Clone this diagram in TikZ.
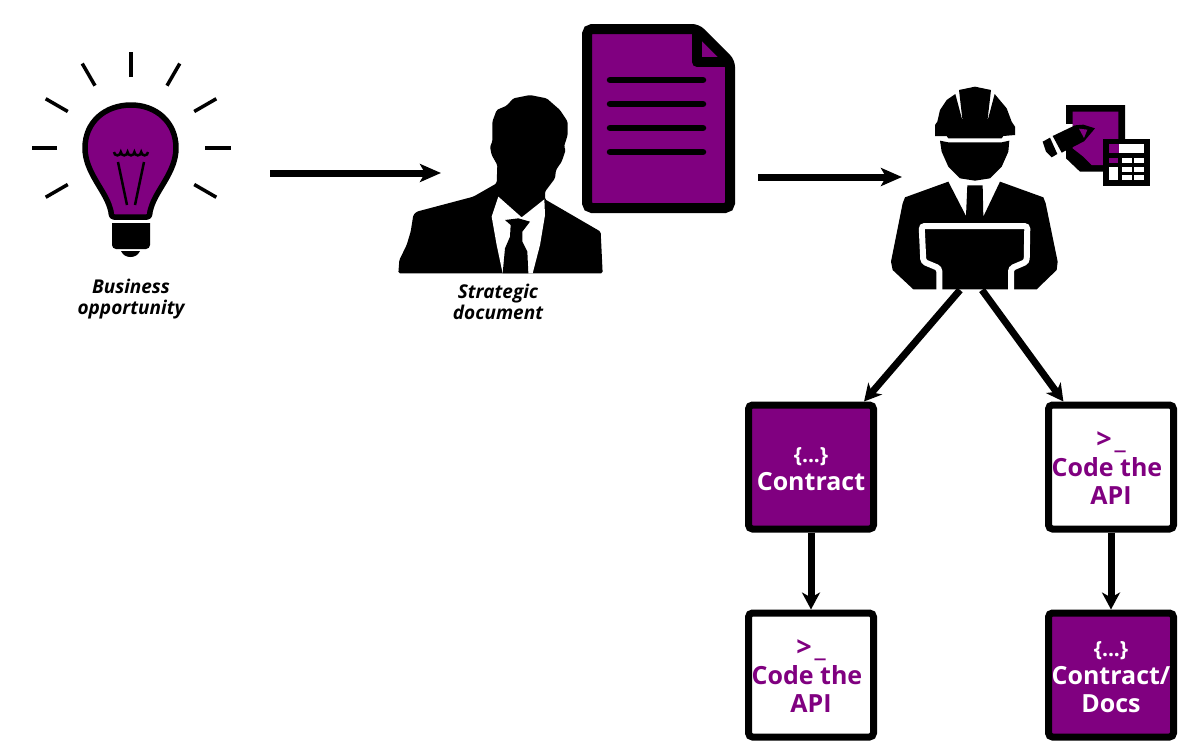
\documentclass[tikz,border=0pt]{standalone}
\usepackage{fontspec}
\setmainfont{Open Sans}
\usetikzlibrary{shapes,arrows,arrows.meta}
\definecolor{plum}{HTML}{800080}
\newcommand{\braces}{{\fontsize{21}{28}\selectfont\rule{0pt}{20pt}\{...\}}}
\newcommand{\prompt}{{\fontsize{27}{28}\selectfont\rule{0pt}{18pt}>\kern3pt\_}}
\tikzstyle{contractbox} = [rectangle, draw=black, fill=plum, text=white, line width=7pt, rounded corners=4pt, minimum width=125pt, minimum height=124pt, inner sep=0pt, font=\bfseries\fontsize{25}{28}\selectfont, align=center]
\tikzstyle{apibox} = [contractbox, fill=white, text=plum]
\tikzstyle{caption} = [align=center, inner sep=0pt, font=\bfseries\itshape\fontsize{19}{21}\selectfont]
\tikzstyle{line} = [draw, line width=7pt, -{Stealth[length=21pt, width=18pt, inset=5pt]}]
\tikzstyle{thinline} = [draw, line width=7pt, -{Stealth[length=17pt, width=18pt, inset=5pt]}]
\begin{document}
\begin{tikzpicture}[x=1pt, y=-1pt]
      \useasboundingbox (0,0) rectangle (1189,753);

      % light bulb
      \foreach \a/\r in {0/74,30/73,60/72,90/71,120/72,150/73,180/74,210/73,330/73}
        \draw [line width=3.5pt] (131,148) ++(\a:\r pt) -- ++(\a:25.5pt);
      \draw [fill=plum, line width=5.5pt, line join=round] (114,217) .. controls (110,217) and (112,212) .. (110,208) .. controls (105,190) and (85,172) .. (85,148) .. controls (85,122) and (105,105) .. (131,105) .. controls (156,105) and (176,122) .. (176,148) .. controls (176,172) and (156,190) .. (151,208) .. controls (149,212) and (151,217) .. (147,217) -- cycle;
      \fill (112,223) -- (150,223) [rounded corners=4pt] -- (150,249) -- (112,249) [sharp corners] -- cycle;
      \fill (121,251) -- (140,251) .. controls (138,255) and (135,257) .. (130.5,257) .. controls (126,257) and (123,255) .. (121,251) -- cycle;
      \draw [line width=2.5pt] (114,152) foreach \i in {1,...,5} { arc [start angle=180, end angle=360, radius=3.4pt] };
      \draw [line width=2.5pt] (118,162) -- (127,205);
      \draw [line width=2.5pt] (144,162) -- (135,205);

      % person
      \begin{scope}[shift={(390,15)}, scale=1/3]
        \fill [rounded corners=1.5pt] (25,775) -- (28,735) -- (50,690) -- (62,650) -- (70,600) -- (80,590) -- (250,545) -- (320,505) -- (322,450) -- (305,420) -- (300,395) -- (307,380) -- (307,320) -- (320,285) -- (350,272) -- (370,250) -- (420,240) -- (470,250) -- (510,285) -- (533,320) -- (533,360) -- (522,395) -- (527,405) -- (515,440) -- (498,465) -- (495,490) -- (465,530) -- (465,553) -- (632,650) -- (638,775) -- cycle;
        \fill [white] (325,545) -- (395,607) -- (463,553) -- (465,600) -- (450,690) -- (428,775) -- (338,775) -- (320,690) -- (305,605) -- cycle;
        \fill (345,615) -- (385,610) -- (420,620) -- (397,650) -- (397,680) -- (412,710) -- (415,775) -- (338,775) -- (345,700) -- (360,665) -- (362,630) -- cycle;
      \end{scope}

      % document
      \draw [fill=plum, line width=10pt, rounded corners=5pt] (587,29) -- (697,29) -- (730,62) -- (730,208) -- (587,208) -- cycle;
      \draw [line width=10pt, line join=round] (697,29) -- (697,62) -- (730,62);
      \foreach \y in {80,104,128,152}
        \draw [line width=6.5pt, line cap=round] (610,\y) -- (703,\y);

      % worker
      \begin{scope}[shift={(880,80)}, scale=1/3]
        \fill (165,168) -- (165,135) -- (172,125) -- (180,90) -- (200,60) -- (226,42) -- (248,125) -- (237,30) -- (285,20) -- (333,30) -- (322,125) -- (344,42) -- (380,85) -- (395,125) -- (405,140) -- (405,165) -- (370,168) -- (365,175) -- (205,175) -- (200,168) -- cycle;
        \fill (180,182) -- (205,187) -- (365,187) -- (388,182) -- (385,215) -- (365,260) -- (330,295) -- (285,302) -- (240,295) -- (205,260) -- (185,215) -- cycle;
        \fill (205,305) -- (258,408) -- (262,316) -- (308,316) -- (310,410) -- (360,305) -- (490,352) -- (497,370) -- (533,545) -- (530,570) -- (470,628) -- (100,628) -- (38,570) -- (33,545) -- (68,370) -- (75,352) -- cycle;
        \draw [white, line width=6pt, rounded corners=3pt] (178,632) -- (178,565) -- (130,545) -- (125,438) -- (442,438) -- (440,545) -- (393,565) -- (393,632);
        % small plan, pencil and calculator
        \fill (558,75) -- (735,75) -- (735,275) -- (600,275) -- (558,235) -- cycle;
        \fill [plum] (578,95) -- (715,95) -- (715,255) -- (635,255) -- (610,230) -- (578,205) -- cycle;
        \fill [white] (552,132) -- (578,132) -- (578,197) -- (552,212) -- cycle;
        \fill (518,168) -- (585,136) -- (610,134) -- (645,145) -- (612,184) -- (545,218) -- cycle;
        \fill (488,185) -- (510,173) -- (532,222) -- (515,232) -- (498,215) -- cycle;
        \fill [plum] (597,146) -- (622,149) -- (612,174) -- cycle;
        \fill (668,177) rectangle (810,317);
        \fill [white] (718,192) rectangle (793,218);
        \fill [plum] (687,192) rectangle (718,218);
        \fill [plum] (687,233) rectangle (715,248);
        \fill [white] (687,262) rectangle (713,300);
        \foreach \kx in {725,762}
          \foreach \ky in {233,262,285}
            \fill [white] (\kx,\ky) rectangle ++(31,15);
      \end{scope}

      \node [caption] (opportunity) at (131,299) {Business\\opportunity};
      \node [caption] (strategic) at (498,301.5) {Strategic\\document};

      \coordinate (bulb_out) at (270,173);
      \coordinate (person_in) at (441,173);
      \coordinate (doc_out) at (758,177);
      \coordinate (worker_in) at (902,177);
      \coordinate (worker_l) at (960,290);
      \coordinate (worker_r) at (982,290);

      \node [contractbox] (contract) at (811,467) {\braces\\Contract};
      \node [apibox] (code_r) at (1111,467) {\prompt\\Code the\kern8pt\\API};
      \node [apibox] (code_l) at (811,675) {\prompt\\Code the\kern8pt\\API};
      \node [contractbox] (docs) at (1111,675) {\braces\\Contract/\\Docs};

      \path [line] (bulb_out) -- (person_in);
      \path [line] (doc_out) -- (worker_in);
      \path [thinline] (worker_l) -- (contract.51);
      \path [thinline] (worker_r) -- (code_r.126);
      \path [thinline] (contract) -- (code_l);
      \path [thinline] (code_r) -- (docs);
    \end{tikzpicture}
\end{document}
